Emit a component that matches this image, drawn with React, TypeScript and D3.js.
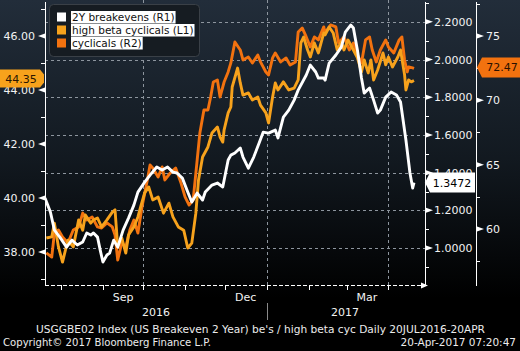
import React, { useEffect, useRef } from 'react';
import * as d3 from 'd3';

// 2Y breakevens (R1)
const breakevens: [string, number][] = [
  ['2016-07-20', 1.265], ['2016-07-24', 1.191], ['2016-07-27', 1.095], ['2016-07-31', 1.058],
  ['2016-08-05', 1.005], ['2016-08-09', 1.042], ['2016-08-13', 1.016], ['2016-08-17', 1.032],
  ['2016-08-20', 1.08], ['2016-08-23', 1.069], ['2016-08-25', 1.08], ['2016-08-28', 1.058],
  ['2016-08-30', 0.989], ['2016-09-01', 0.926], ['2016-09-04', 0.963], ['2016-09-06', 0.973],
  ['2016-09-09', 1.042], ['2016-09-12', 1.005], ['2016-09-16', 1.095], ['2016-09-20', 1.159],
  ['2016-09-24', 1.228], ['2016-09-27', 1.297], ['2016-10-02', 1.35], ['2016-10-06', 1.387],
  ['2016-10-11', 1.43], ['2016-10-15', 1.414], ['2016-10-19', 1.43], ['2016-10-23', 1.403],
  ['2016-10-26', 1.398], ['2016-10-30', 1.371], ['2016-11-03', 1.297], ['2016-11-06', 1.244],
  ['2016-11-10', 1.292], ['2016-11-14', 1.255], ['2016-11-16', 1.297], ['2016-11-21', 1.334],
  ['2016-11-25', 1.345], ['2016-11-29', 1.324], ['2016-12-03', 1.467], ['2016-12-05', 1.493],
  ['2016-12-08', 1.504], ['2016-12-12', 1.531], ['2016-12-14', 1.483], ['2016-12-18', 1.424],
  ['2016-12-22', 1.483], ['2016-12-26', 1.557], ['2016-12-29', 1.615], ['2017-01-02', 1.61],
  ['2017-01-07', 1.626], ['2017-01-09', 1.584], ['2017-01-13', 1.695], ['2017-01-17', 1.732],
  ['2017-01-21', 1.785], ['2017-01-24', 1.838], ['2017-01-30', 1.918], ['2017-02-02', 1.971],
  ['2017-02-06', 1.934], ['2017-02-08', 1.902], ['2017-02-12', 1.902], ['2017-02-13', 1.891],
  ['2017-02-16', 1.981], ['2017-02-21', 2.024], ['2017-02-25', 2.066], ['2017-02-28', 2.146],
  ['2017-03-04', 2.183], ['2017-03-06', 2.167], ['2017-03-09', 2.05], ['2017-03-12', 1.902],
  ['2017-03-14', 1.822], ['2017-03-18', 1.849], ['2017-03-21', 1.785], ['2017-03-24', 1.716],
  ['2017-03-26', 1.732], ['2017-03-30', 1.801], ['2017-04-03', 1.828], ['2017-04-07', 1.812],
  ['2017-04-10', 1.775], ['2017-04-14', 1.573], ['2017-04-17', 1.398], ['2017-04-19', 1.318],
  ['2017-04-20', 1.3472],
];

// high beta cyclicals (L1)
const highBeta: [string, number][] = [
  ['2016-07-21', 38.52], ['2016-07-25', 38.56], ['2016-07-27', 39.07], ['2016-07-30', 38.19],
  ['2016-08-02', 37.63], ['2016-08-06', 38.44], ['2016-08-10', 38.19], ['2016-08-14', 39.19],
  ['2016-08-17', 38.81], ['2016-08-19', 39.37], ['2016-08-23', 39.07], ['2016-08-25', 39.19],
  ['2016-08-28', 39.26], ['2016-08-31', 38.93], ['2016-09-04', 39.19], ['2016-09-08', 39.48],
  ['2016-09-10', 39.56], ['2016-09-12', 38.19], ['2016-09-15', 38.52], ['2016-09-18', 37.96],
  ['2016-09-20', 38.63], ['2016-09-24', 38.93], ['2016-09-27', 39.3], ['2016-09-29', 39.67],
  ['2016-10-02', 40.19], ['2016-10-05', 40.41], ['2016-10-08', 39.93], ['2016-10-12', 40.04],
  ['2016-10-16', 39.44], ['2016-10-20', 39.81], ['2016-10-23', 39.3], ['2016-10-27', 38.93],
  ['2016-10-31', 38.81], ['2016-11-03', 38.15], ['2016-11-06', 38.33], ['2016-11-09', 39.44],
  ['2016-11-11', 40.67], ['2016-11-14', 41.52], ['2016-11-18', 41.89], ['2016-11-21', 42.41],
  ['2016-11-25', 42.63], ['2016-11-27', 42.26], ['2016-11-29', 42.07], ['2016-11-30', 42.52],
  ['2016-12-03', 43.15], ['2016-12-05', 43.37], ['2016-12-06', 44.11], ['2016-12-10', 44.81],
  ['2016-12-12', 44.26], ['2016-12-14', 43.81], ['2016-12-18', 43.89], ['2016-12-21', 43.63],
  ['2016-12-25', 43.74], ['2016-12-27', 43.44], ['2016-12-31', 43.15], ['2017-01-02', 42.78],
  ['2017-01-05', 43.74], ['2017-01-07', 44.26], ['2017-01-09', 44.0], ['2017-01-13', 44.3],
  ['2017-01-17', 44.0], ['2017-01-21', 44.07], ['2017-01-24', 44.37], ['2017-01-26', 45.74],
  ['2017-01-28', 45.96], ['2017-01-31', 45.48], ['2017-02-02', 45.22], ['2017-02-05', 45.74],
  ['2017-02-08', 45.37], ['2017-02-12', 46.11], ['2017-02-13', 46.04], ['2017-02-16', 46.33],
  ['2017-02-19', 46.11], ['2017-02-22', 45.48], ['2017-02-25', 45.78], ['2017-02-27', 45.48],
  ['2017-03-02', 45.85], ['2017-03-06', 45.48], ['2017-03-09', 45.19], ['2017-03-12', 44.67],
  ['2017-03-14', 45.11], ['2017-03-17', 44.63], ['2017-03-19', 45.11], ['2017-03-21', 44.37],
  ['2017-03-24', 44.74], ['2017-03-28', 45.37], ['2017-03-30', 44.93], ['2017-04-01', 45.22],
  ['2017-04-04', 44.85], ['2017-04-08', 45.22], ['2017-04-10', 45.48], ['2017-04-13', 44.56],
  ['2017-04-14', 44.0], ['2017-04-16', 44.37], ['2017-04-18', 44.3], ['2017-04-20', 44.35],
];

// cyclicals (R2)
const cyclicals: [string, number][] = [
  ['2016-07-21', 58.14], ['2016-07-25', 57.82], ['2016-07-27', 59.69], ['2016-07-30', 59.92],
  ['2016-08-02', 59.38], ['2016-08-06', 58.91], ['2016-08-10', 59.92], ['2016-08-14', 60.16],
  ['2016-08-17', 61.24], ['2016-08-20', 60.7], ['2016-08-24', 60.93], ['2016-08-28', 60.16],
  ['2016-08-31', 60.08], ['2016-09-04', 60.47], ['2016-09-08', 60.16], ['2016-09-10', 59.53],
  ['2016-09-12', 57.59], ['2016-09-15', 58.91], ['2016-09-18', 58.6], ['2016-09-21', 59.92],
  ['2016-09-24', 60.7], ['2016-09-27', 59.69], ['2016-09-30', 61.71], ['2016-10-04', 63.81],
  ['2016-10-06', 64.97], ['2016-10-08', 64.74], ['2016-10-12', 64.04], ['2016-10-15', 64.82],
  ['2016-10-17', 63.81], ['2016-10-21', 64.35], ['2016-10-25', 64.74], ['2016-10-29', 63.57],
  ['2016-11-01', 62.49], ['2016-11-04', 61.86], ['2016-11-07', 62.25], ['2016-11-10', 65.36],
  ['2016-11-12', 67.46], ['2016-11-15', 69.25], ['2016-11-18', 69.25], ['2016-11-20', 70.26],
  ['2016-11-22', 71.42], ['2016-11-25', 71.58], ['2016-11-27', 70.26], ['2016-11-30', 71.42],
  ['2016-12-03', 72.2], ['2016-12-05', 72.9], ['2016-12-08', 74.53], ['2016-12-12', 73.91],
  ['2016-12-14', 73.13], ['2016-12-18', 73.36], ['2016-12-21', 72.9], ['2016-12-25', 73.52],
  ['2016-12-27', 72.98], ['2016-12-31', 72.2], ['2017-01-02', 71.97], ['2017-01-05', 73.29],
  ['2017-01-07', 73.68], ['2017-01-11', 72.98], ['2017-01-15', 73.29], ['2017-01-18', 72.74],
  ['2017-01-22', 72.98], ['2017-01-24', 75.31], ['2017-01-27', 75.62], ['2017-01-30', 74.92],
  ['2017-02-02', 74.14], ['2017-02-05', 74.92], ['2017-02-08', 74.69], ['2017-02-12', 75.7],
  ['2017-02-13', 75.23], ['2017-02-17', 75.85], ['2017-02-21', 75.7], ['2017-02-23', 74.45],
  ['2017-02-27', 74.92], ['2017-03-03', 73.91], ['2017-03-06', 74.45], ['2017-03-09', 73.52],
  ['2017-03-12', 72.9], ['2017-03-15', 74.69], ['2017-03-18', 74.92], ['2017-03-20', 73.91],
  ['2017-03-23', 72.98], ['2017-03-26', 73.91], ['2017-03-30', 74.69], ['2017-04-01', 74.14],
  ['2017-04-05', 73.68], ['2017-04-09', 74.69], ['2017-04-11', 74.92], ['2017-04-13', 73.13],
  ['2017-04-15', 72.2], ['2017-04-16', 72.59], ['2017-04-19', 72.51], ['2017-04-20', 72.47],
];

const leftTicks = [38, 40, 42, 44, 46];
const leftMinor = [37, 39, 41, 43, 45, 47];
const r1Ticks = [1.0, 1.2, 1.4, 1.6, 1.8, 2.0, 2.2];
const r1Minor = [0.9, 1.1, 1.3, 1.5, 1.7, 1.9, 2.1, 2.3];
const r2Ticks = [60, 65, 70, 75];
const r2Minor = [57.5, 62.5, 67.5, 72.5, 77.5];
const monthLabels: [string, string][] = [['2016-09-16', 'Sep'], ['2016-12-16', 'Dec'], ['2017-03-16', 'Mar']];
const yearLabels = ['2016', '2017'];
const legendNames = ['2Y breakevens (R1)', 'high beta cyclicals (L1)', 'cyclicals (R2)'];
const legendColors = ['#ffffff', '#f7a21c', '#f3720f'];
const titleText = "USGGBE02 Index (US Breakeven 2 Year) be's / high beta cyc  Daily 20JUL2016-20APR";
const copyrightText = 'Copyright\u00a9 2017 Bloomberg Finance L.P.';
const stampText = '20-Apr-2017 07:20:47';

const W = 520;
const H = 351;
const FONT = 'DejaVu Sans, Verdana, sans-serif';

const App = () => {
  const ref = useRef<SVGSVGElement>(null);

  useEffect(() => {
    const parse = d3.timeParse('%Y-%m-%d');
    const svg = d3.select(ref.current);
    svg.selectAll('*').remove();

    const left = 45, right = 425, r2x = 476, top = 0, bottom = 285;

    const x = d3.scaleTime()
      .domain([parse('2016-07-20') as Date, parse('2017-04-20') as Date])
      .range([left, 414]);
    const yL = d3.scaleLinear().domain([36.78, 47.33]).range([bottom, top]);
    const yR1 = d3.scaleLinear().domain([0.804, 2.316]).range([bottom, top]);
    const yR2 = d3.scaleLinear().domain([55.65, 77.79]).range([bottom, top]);

    const defs = svg.append('defs');
    const grad = defs.append('linearGradient')
      .attr('id', 'bg').attr('x1', 0).attr('y1', 0).attr('x2', 0).attr('y2', 1);
    grad.append('stop').attr('offset', '0%').attr('stop-color', '#222d3a');
    grad.append('stop').attr('offset', '45%').attr('stop-color', '#121920');
    grad.append('stop').attr('offset', '85%').attr('stop-color', '#000000');
    defs.append('clipPath').attr('id', 'plotclip')
      .append('rect').attr('x', left).attr('y', top).attr('width', right - left).attr('height', bottom - top);

    svg.append('rect').attr('width', W).attr('height', H).attr('fill', '#000');
    svg.append('rect').attr('width', W).attr('height', H).attr('fill', 'url(#bg)');

    // grid
    const grid = svg.append('g').attr('stroke', '#8d959e').attr('stroke-width', 1).attr('stroke-dasharray', '3,3');
    r1Ticks.forEach((v) => {
      grid.append('line').attr('x1', left).attr('x2', right)
        .attr('y1', Math.round(yR1(v)) + 0.5).attr('y2', Math.round(yR1(v)) + 0.5);
    });
    x.ticks(d3.timeMonth.every(3) as any).forEach((d) => {
      const px = Math.round(x(d)) + 0.5;
      grid.append('line').attr('x1', px).attr('x2', px).attr('y1', top).attr('y2', bottom);
    });

    // series
    const plot = svg.append('g').attr('clip-path', 'url(#plotclip)');
    const drawLine = (data: [string, number][], y: d3.ScaleLinear<number, number>, color: string) => {
      const line = d3.line<[string, number]>()
        .x((d) => x(parse(d[0]) as Date))
        .y((d) => y(d[1]));
      plot.append('path')
        .datum(data)
        .attr('d', line)
        .attr('fill', 'none')
        .attr('stroke', color)
        .attr('stroke-width', 2.9)
        .attr('stroke-linejoin', 'round');
    };
    drawLine(cyclicals, yR2, legendColors[2]);
    drawLine(highBeta, yL, legendColors[1]);
    drawLine(breakevens, yR1, legendColors[0]);

    // axes
    const axes = svg.append('g').attr('fill', '#fff').attr('stroke', '#fff');
    [left, right, r2x].forEach((ax) => {
      axes.append('line').attr('x1', ax + 0.5).attr('x2', ax + 0.5).attr('y1', 2).attr('y2', bottom + 1).attr('stroke-width', 1);
    });
    axes.append('line').attr('x1', left).attr('x2', right).attr('y1', bottom + 0.5).attr('y2', bottom + 0.5)
      .attr('stroke-width', 1).attr('stroke-dasharray', '4,2');
    axes.append('path').attr('stroke', 'none')
      .attr('d', `M${right - 4},${bottom - 2.5} L${right + 3},${bottom + 0.5} L${right - 4},${bottom + 3.5} Z`);
    x.ticks(d3.timeMonth).forEach((d) => {
      const px = Math.round(x(d)) + 0.5;
      axes.append('line').attr('x1', px).attr('x2', px).attr('y1', bottom).attr('y2', bottom + 5).attr('stroke-width', 1);
    });

    const tri = (ax: number, y: number, dir: number) =>
      `M${ax},${y - 2.5} L${ax + dir * 7},${y} L${ax},${y + 2.5} Z`;

    const labels = svg.append('g').attr('font-family', FONT).attr('font-size', 11).attr('fill', '#f2f2f2');

    leftMinor.forEach((v) => {
      const py = Math.round(yL(v)) + 0.5;
      axes.append('line').attr('x1', left - 4).attr('x2', left).attr('y1', py).attr('y2', py);
    });
    leftTicks.forEach((v) => {
      const py = yL(v);
      axes.append('path').attr('stroke', 'none').attr('d', tri(left, py, -1));
      labels.append('text').attr('x', 35).attr('y', py + 4).attr('text-anchor', 'end').text(v.toFixed(2));
    });

    r1Minor.forEach((v) => {
      const py = Math.round(yR1(v)) + 0.5;
      axes.append('line').attr('x1', right).attr('x2', right + 4).attr('y1', py).attr('y2', py);
    });
    r1Ticks.forEach((v) => {
      const py = yR1(v);
      axes.append('path').attr('stroke', 'none').attr('d', tri(right + 1, py, 1));
      labels.append('text').attr('x', 434).attr('y', py + 4).text(v.toFixed(4));
    });

    r2Minor.forEach((v) => {
      const py = Math.round(yR2(v)) + 0.5;
      axes.append('line').attr('x1', r2x).attr('x2', r2x + 4).attr('y1', py).attr('y2', py);
    });
    r2Ticks.forEach((v) => {
      const py = yR2(v);
      axes.append('path').attr('stroke', 'none').attr('d', tri(r2x + 1, py, 1));
      labels.append('text').attr('x', 486).attr('y', py + 4).text(String(v));
    });

    // month / year labels
    monthLabels.forEach(([d, t]) => {
      labels.append('text').attr('x', x(parse(d) as Date)).attr('y', 301).attr('text-anchor', 'middle').text(t);
    });
    const jan1 = x(parse('2017-01-01') as Date);
    labels.append('text').attr('x', (left + jan1) / 2).attr('y', 316).attr('text-anchor', 'middle').text(yearLabels[0]);
    labels.append('text').attr('x', (jan1 + 423) / 2).attr('y', 316).attr('text-anchor', 'middle').text(yearLabels[1]);
    svg.append('line').attr('x1', Math.round(jan1) + 0.5).attr('x2', Math.round(jan1) + 0.5)
      .attr('y1', 303).attr('y2', 320).attr('stroke', '#8a8a8a');

    // legend
    const lg = svg.append('g').attr('font-family', FONT).attr('font-size', 10.5);
    lg.append('rect').attr('x', 49.5).attr('y', 4.5).attr('width', 150).attr('height', 52).attr('rx', 4)
      .attr('fill', '#161c22').attr('stroke', '#3a4047');
    legendNames.forEach((name, i) => {
      const cy = 17 + i * 13;
      lg.append('rect').attr('x', 57).attr('y', cy - 4.5).attr('width', 9).attr('height', 9).attr('fill', legendColors[i]);
      const bgRect = lg.append('rect').attr('x', 71).attr('y', cy - 6).attr('height', 12.5).attr('fill', '#fff');
      const txt = lg.append('text').attr('x', 72).attr('y', cy + 4).attr('fill', '#111').text(name);
      const w = (txt.node() as SVGTextElement).getComputedTextLength();
      bgRect.attr('width', w + 2);
    });

    // last value tags
    const tags = svg.append('g').attr('font-family', FONT).attr('font-size', 11);
    const hbLast = highBeta[highBeta.length - 1][1];
    const yl = yL(hbLast) - 2;
    tags.append('path').attr('fill', legendColors[1])
      .attr('d', `M0,${yl - 9} H40 L44,${yl - 4} V${yl + 4} L40,${yl + 9} H0 Z`);
    tags.append('text').attr('x', 21).attr('y', yl + 4).attr('text-anchor', 'middle').attr('fill', '#2a1600').text(hbLast.toFixed(2));

    const beLast = breakevens[breakevens.length - 1][1];
    const yb = yR1(beLast);
    tags.append('path').attr('fill', '#ffffff')
      .attr('d', `M${right},${yb} L${right + 5},${yb - 10} H475 V${yb + 10} H${right + 5} Z`);
    tags.append('text').attr('x', 452).attr('y', yb + 4).attr('text-anchor', 'middle').attr('fill', '#000').text(beLast.toFixed(4));

    const cyLast = cyclicals[cyclicals.length - 1][1];
    const yc = yR2(cyLast) - 1;
    tags.append('path').attr('fill', legendColors[2])
      .attr('d', `M${r2x + 1},${yc} L${r2x + 6},${yc - 10} H520 V${yc + 10} H${r2x + 6} Z`);
    tags.append('text').attr('x', 502).attr('y', yc + 4).attr('text-anchor', 'middle').attr('fill', '#2a1000').text(cyLast.toFixed(2));

    // footer
    const ft = svg.append('g').attr('font-family', FONT).attr('font-size', 10.5).attr('fill', '#ececec')
      .style('white-space', 'pre');
    ft.append('text').attr('x', 36).attr('y', 333).attr('textLength', 449).attr('lengthAdjust', 'spacingAndGlyphs').text(titleText);
    ft.append('text').attr('x', 3).attr('y', 346).attr('textLength', 208).attr('lengthAdjust', 'spacingAndGlyphs').text(copyrightText);
    ft.append('text').attr('x', 516).attr('y', 346).attr('text-anchor', 'end').text(stampText);
  }, []);

  return (
    <svg
      ref={ref}
      width={W}
      height={H}
      style={{ position: 'absolute', left: 0, top: 0, display: 'block' }}
    />
  );
};

export default App;
